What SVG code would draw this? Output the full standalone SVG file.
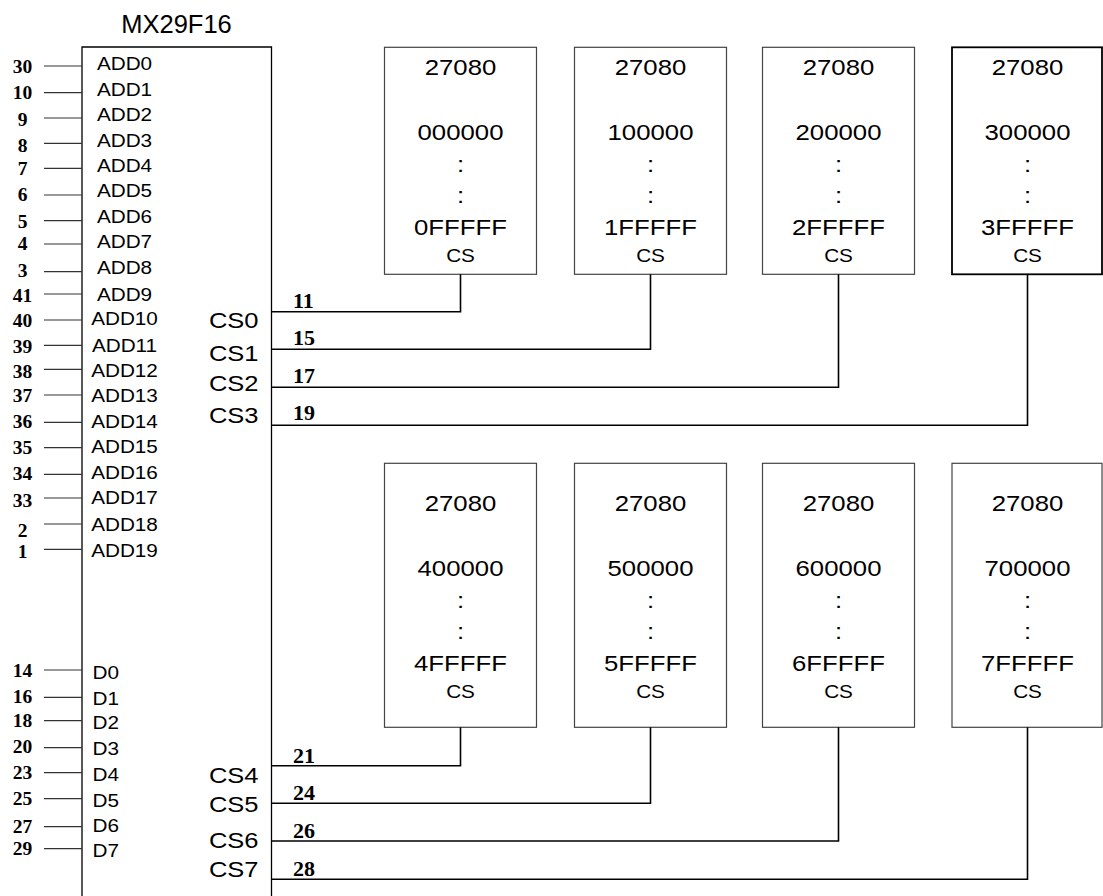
<svg xmlns="http://www.w3.org/2000/svg" width="1103" height="896" viewBox="0 0 1103 896">
<style>
.s{font-family:"Liberation Sans",Arial,sans-serif;fill:#000}
.n{font-family:"Liberation Serif","Times New Roman",serif;font-weight:bold;fill:#000}
.pn{font-size:19.5px;text-anchor:middle}
.cn{font-size:22px}
.big{font-size:23px;text-anchor:middle}
.sm{font-size:18.5px;text-anchor:middle}
.al{font-size:18.5px;text-anchor:middle}
.dl{font-size:18.5px}
.csl{font-size:22px;text-anchor:end}
.box{fill:#fff;stroke:#444;stroke-width:1.2}
.box4{fill:#fff;stroke:#000;stroke-width:1.8}
.pin{stroke:#333;stroke-width:1.2;fill:none}
.w{stroke:#000;stroke-width:1.6;fill:none}
</style>
<rect width="1103" height="896" fill="#fff"/>
<g id="chip">
<text class="s" x="176.5" y="33.3" font-size="25.5" text-anchor="middle">MX29F16</text>
<path d="M82,896 V47 H271.5 V896" fill="none" stroke="#000" stroke-width="1.3"/>
<text class="s al" transform="translate(124.5,70) scale(1.12 1)">ADD0</text>
<text class="s al" transform="translate(124.5,96) scale(1.12 1)">ADD1</text>
<text class="s al" transform="translate(124.5,120.7) scale(1.12 1)">ADD2</text>
<text class="s al" transform="translate(124.5,146.7) scale(1.12 1)">ADD3</text>
<text class="s al" transform="translate(124.5,172) scale(1.12 1)">ADD4</text>
<text class="s al" transform="translate(124.5,196.7) scale(1.12 1)">ADD5</text>
<text class="s al" transform="translate(124.5,222.7) scale(1.12 1)">ADD6</text>
<text class="s al" transform="translate(124.5,248.3) scale(1.12 1)">ADD7</text>
<text class="s al" transform="translate(124.5,274) scale(1.12 1)">ADD8</text>
<text class="s al" transform="translate(124.5,300.7) scale(1.12 1)">ADD9</text>
<text class="s al" transform="translate(124.5,325) scale(1.12 1)">ADD10</text>
<text class="s al" transform="translate(124.5,351.7) scale(1.12 1)">ADD11</text>
<text class="s al" transform="translate(124.5,376.7) scale(1.12 1)">ADD12</text>
<text class="s al" transform="translate(124.5,401.7) scale(1.12 1)">ADD13</text>
<text class="s al" transform="translate(124.5,428.3) scale(1.12 1)">ADD14</text>
<text class="s al" transform="translate(124.5,453.3) scale(1.12 1)">ADD15</text>
<text class="s al" transform="translate(124.5,479.3) scale(1.12 1)">ADD16</text>
<text class="s al" transform="translate(124.5,504) scale(1.12 1)">ADD17</text>
<text class="s al" transform="translate(124.5,530.7) scale(1.12 1)">ADD18</text>
<text class="s al" transform="translate(124.5,556.7) scale(1.12 1)">ADD19</text>
<text class="s dl" transform="translate(92.5,679) scale(1.12 1)">D0</text>
<text class="s dl" transform="translate(92.5,705) scale(1.12 1)">D1</text>
<text class="s dl" transform="translate(92.5,729) scale(1.12 1)">D2</text>
<text class="s dl" transform="translate(92.5,755) scale(1.12 1)">D3</text>
<text class="s dl" transform="translate(92.5,781) scale(1.12 1)">D4</text>
<text class="s dl" transform="translate(92.5,806.7) scale(1.12 1)">D5</text>
<text class="s dl" transform="translate(92.5,832.3) scale(1.12 1)">D6</text>
<text class="s dl" transform="translate(92.5,857.3) scale(1.12 1)">D7</text>
<text class="s csl" transform="translate(258.5,328.3) scale(1.16 1)">CS0</text>
<text class="s csl" transform="translate(258.5,361) scale(1.16 1)">CS1</text>
<text class="s csl" transform="translate(258.5,391) scale(1.16 1)">CS2</text>
<text class="s csl" transform="translate(258.5,423.3) scale(1.16 1)">CS3</text>
<text class="s csl" transform="translate(258.5,783.3) scale(1.16 1)">CS4</text>
<text class="s csl" transform="translate(258.5,811.7) scale(1.16 1)">CS5</text>
<text class="s csl" transform="translate(258.5,848.3) scale(1.16 1)">CS6</text>
<text class="s csl" transform="translate(258.5,876.7) scale(1.16 1)">CS7</text>
</g>
<g id="pin-numbers">
<text class="n pn" x="22.5" y="73.3">30</text>
<text class="n pn" x="22.5" y="99">10</text>
<text class="n pn" x="22.5" y="126">9</text>
<text class="n pn" x="22.5" y="151.7">8</text>
<text class="n pn" x="22.5" y="175">7</text>
<text class="n pn" x="22.5" y="201">6</text>
<text class="n pn" x="22.5" y="228">5</text>
<text class="n pn" x="22.5" y="250">4</text>
<text class="n pn" x="22.5" y="276.7">3</text>
<text class="n pn" x="22.5" y="301.7">41</text>
<text class="n pn" x="22.5" y="326.7">40</text>
<text class="n pn" x="22.5" y="352.7">39</text>
<text class="n pn" x="22.5" y="378">38</text>
<text class="n pn" x="22.5" y="401.7">37</text>
<text class="n pn" x="22.5" y="427.7">36</text>
<text class="n pn" x="22.5" y="454">35</text>
<text class="n pn" x="22.5" y="480">34</text>
<text class="n pn" x="22.5" y="506.7">33</text>
<text class="n pn" x="22.5" y="536.7">2</text>
<text class="n pn" x="22.5" y="558.3">1</text>
<text class="n pn" x="22.5" y="676.7">14</text>
<text class="n pn" x="22.5" y="703.3">16</text>
<text class="n pn" x="22.5" y="726.7">18</text>
<text class="n pn" x="22.5" y="752.7">20</text>
<text class="n pn" x="22.5" y="779.3">23</text>
<text class="n pn" x="22.5" y="805">25</text>
<text class="n pn" x="22.5" y="832.7">27</text>
<text class="n pn" x="22.5" y="855">29</text>
<text class="n cn" x="293" y="308.3">11</text>
<text class="n cn" x="293" y="345">15</text>
<text class="n cn" x="293" y="383.3">17</text>
<text class="n cn" x="293" y="420">19</text>
<text class="n cn" x="293" y="763.3">21</text>
<text class="n cn" x="293" y="800">24</text>
<text class="n cn" x="293" y="838.3">26</text>
<text class="n cn" x="293" y="876">28</text>
</g>
<g id="rom0">
<rect class="box" x="384.5" y="47.3" width="152" height="227"/>
<text class="s big" transform="translate(460.5,75) scale(1.12 1)">27080</text>
<text class="s big" transform="translate(460.5,140) scale(1.12 1)">000000</text>
<text class="s big" transform="translate(460.5,171.7) scale(1.12 1)">:</text>
<text class="s big" transform="translate(460.5,203.3) scale(1.12 1)">:</text>
<text class="s big" transform="translate(460.5,235) scale(1.12 1)">0FFFFF</text>
<text class="s sm" transform="translate(460.5,261.7) scale(1.12 1)">CS</text>
</g>
<g id="rom1">
<rect class="box" x="574.5" y="47.3" width="152" height="227"/>
<text class="s big" transform="translate(650.5,75) scale(1.12 1)">27080</text>
<text class="s big" transform="translate(650.5,140) scale(1.12 1)">100000</text>
<text class="s big" transform="translate(650.5,171.7) scale(1.12 1)">:</text>
<text class="s big" transform="translate(650.5,203.3) scale(1.12 1)">:</text>
<text class="s big" transform="translate(650.5,235) scale(1.12 1)">1FFFFF</text>
<text class="s sm" transform="translate(650.5,261.7) scale(1.12 1)">CS</text>
</g>
<g id="rom2">
<rect class="box" x="762.5" y="47.3" width="152" height="227"/>
<text class="s big" transform="translate(838.5,75) scale(1.12 1)">27080</text>
<text class="s big" transform="translate(838.5,140) scale(1.12 1)">200000</text>
<text class="s big" transform="translate(838.5,171.7) scale(1.12 1)">:</text>
<text class="s big" transform="translate(838.5,203.3) scale(1.12 1)">:</text>
<text class="s big" transform="translate(838.5,235) scale(1.12 1)">2FFFFF</text>
<text class="s sm" transform="translate(838.5,261.7) scale(1.12 1)">CS</text>
</g>
<g id="rom3">
<rect class="box4" x="952" y="47.3" width="150" height="227"/>
<text class="s big" transform="translate(1027.5,75) scale(1.12 1)">27080</text>
<text class="s big" transform="translate(1027.5,140) scale(1.12 1)">300000</text>
<text class="s big" transform="translate(1027.5,171.7) scale(1.12 1)">:</text>
<text class="s big" transform="translate(1027.5,203.3) scale(1.12 1)">:</text>
<text class="s big" transform="translate(1027.5,235) scale(1.12 1)">3FFFFF</text>
<text class="s sm" transform="translate(1027.5,261.7) scale(1.12 1)">CS</text>
</g>
<g id="rom4">
<rect class="box" x="384.5" y="463.3" width="152" height="264"/>
<text class="s big" transform="translate(460.5,511) scale(1.12 1)">27080</text>
<text class="s big" transform="translate(460.5,576) scale(1.12 1)">400000</text>
<text class="s big" transform="translate(460.5,607.7) scale(1.12 1)">:</text>
<text class="s big" transform="translate(460.5,639.3) scale(1.12 1)">:</text>
<text class="s big" transform="translate(460.5,671) scale(1.12 1)">4FFFFF</text>
<text class="s sm" transform="translate(460.5,697.7) scale(1.12 1)">CS</text>
</g>
<g id="rom5">
<rect class="box" x="574.5" y="463.3" width="152" height="264"/>
<text class="s big" transform="translate(650.5,511) scale(1.12 1)">27080</text>
<text class="s big" transform="translate(650.5,576) scale(1.12 1)">500000</text>
<text class="s big" transform="translate(650.5,607.7) scale(1.12 1)">:</text>
<text class="s big" transform="translate(650.5,639.3) scale(1.12 1)">:</text>
<text class="s big" transform="translate(650.5,671) scale(1.12 1)">5FFFFF</text>
<text class="s sm" transform="translate(650.5,697.7) scale(1.12 1)">CS</text>
</g>
<g id="rom6">
<rect class="box" x="762.5" y="463.3" width="152" height="264"/>
<text class="s big" transform="translate(838.5,511) scale(1.12 1)">27080</text>
<text class="s big" transform="translate(838.5,576) scale(1.12 1)">600000</text>
<text class="s big" transform="translate(838.5,607.7) scale(1.12 1)">:</text>
<text class="s big" transform="translate(838.5,639.3) scale(1.12 1)">:</text>
<text class="s big" transform="translate(838.5,671) scale(1.12 1)">6FFFFF</text>
<text class="s sm" transform="translate(838.5,697.7) scale(1.12 1)">CS</text>
</g>
<g id="rom7">
<rect class="box" x="952" y="463.3" width="150" height="264"/>
<text class="s big" transform="translate(1027.5,511) scale(1.12 1)">27080</text>
<text class="s big" transform="translate(1027.5,576) scale(1.12 1)">700000</text>
<text class="s big" transform="translate(1027.5,607.7) scale(1.12 1)">:</text>
<text class="s big" transform="translate(1027.5,639.3) scale(1.12 1)">:</text>
<text class="s big" transform="translate(1027.5,671) scale(1.12 1)">7FFFFF</text>
<text class="s sm" transform="translate(1027.5,697.7) scale(1.12 1)">CS</text>
</g>
<g id="connectors">
<path class="pin" d="M44,66H82 M44,92.7H82 M44,118H82 M44,143.3H82 M44,168.3H82 M44,195H82 M44,220.7H82 M44,244H82 M44,271.7H82 M44,294H82 M44,320H82 M44,345.3H82 M44,369.3H82 M44,395H82 M44,422.3H82 M44,447.7H82 M44,474.3H82 M44,498H82 M44,524H82 M44,549.3H82"/>
<path class="pin" d="M44,670H82 M44,697.3H82 M44,720.7H82 M44,747.7H82 M44,772.7H82 M44,798.7H82 M44,826.7H82 M44,848.7H82"/>
<path class="w" d="M271.5,311.7H460.5V274.3"/>
<path class="w" d="M271.5,349.3H650.5V274.3"/>
<path class="w" d="M271.5,387.3H838.5V274.3"/>
<path class="w" d="M271.5,425.3H1027.5V274.3"/>
<path class="w" d="M271.5,765.7H460.5V727.3"/>
<path class="w" d="M271.5,803.3H650.5V727.3"/>
<path class="w" d="M271.5,841H838.5V727.3"/>
<path class="w" d="M271.5,879.3H1027.5V727.3"/>
</g>
</svg>
